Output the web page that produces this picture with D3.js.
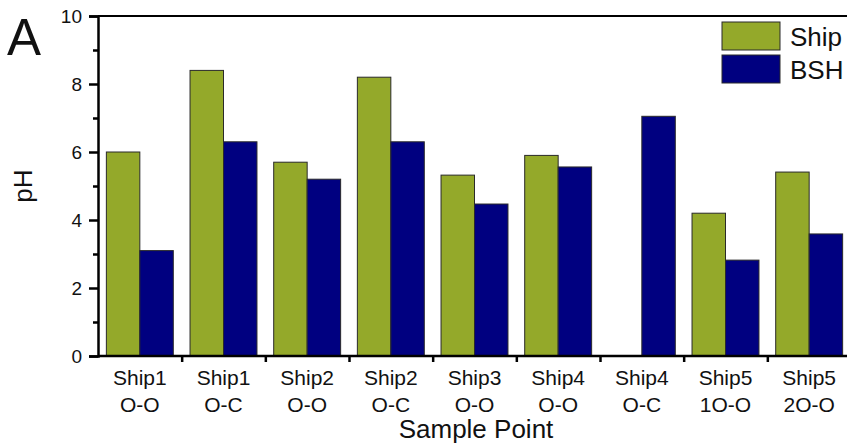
<!DOCTYPE html>
<html>
<head>
<meta charset="utf-8">
<title>pH by Sample Point</title>
<script src="https://cdn.jsdelivr.net/npm/d3@7"></script>
<style>
  body { margin: 0; background: #fff; }
  text { font-family: "Liberation Sans", Arial, sans-serif; fill: #111; }
</style>
</head>
<body>
<script>
// data
var categories = ["Ship1|O-O", "Ship1|O-C", "Ship2|O-O", "Ship2|O-C", "Ship3|O-O",
                  "Ship4|O-O", "Ship4|O-C", "Ship5|1O-O", "Ship5|2O-O"];
var shipValues = [6.0, 8.4, 5.7, 8.2, 5.32, 5.9, 0, 4.2, 5.41];
var bshValues  = [3.1, 6.3, 5.2, 6.3, 4.47, 5.56, 7.05, 2.82, 3.59];
var seriesNames = ["Ship", "BSH"];
var yTicks = [0, 2, 4, 6, 8, 10];
var yMinorTicks = [1, 3, 5, 7, 9];

var w = 847, h = 445;
var mLeft = 98, mRight = 851, mTop = 16, mBottom = 356;
var colors = { Ship: "#94a92a", BSH: "#000080" };

var data = categories.map(function (c, i) {
  return { cat: c, Ship: shipValues[i], BSH: bshValues[i] };
});

var svg = d3.select("body").append("svg")
    .attr("width", w)
    .attr("height", h);

var x = d3.scaleBand()
    .domain(categories)
    .range([mLeft, mRight])
    .paddingInner(0)
    .paddingOuter(0);

var x1 = d3.scaleBand()
    .domain(seriesNames)
    .range([0, x.bandwidth()])
    .paddingInner(0)
    .paddingOuter(0.25);

var y = d3.scaleLinear()
    .domain([0, 10])
    .range([mBottom, mTop]);

// bars
var groups = svg.selectAll("g.grp")
    .data(data)
    .enter()
    .append("g")
    .attr("class", "grp")
    .attr("transform", function (d) { return "translate(" + x(d.cat) + ",0)"; });

groups.selectAll("rect")
    .data(function (d) {
      return seriesNames.map(function (s) { return { key: s, value: d[s] }; })
        .filter(function (e) { return e.value > 0; });
    })
    .enter()
    .append("rect")
    .attr("x", function (d) { return x1(d.key); })
    .attr("y", function (d) { return y(d.value); })
    .attr("width", x1.bandwidth())
    .attr("height", function (d) { return y(0) - y(d.value); })
    .attr("fill", function (d) { return colors[d.key]; })
    .attr("stroke", "#2a2a2a")
    .attr("stroke-width", 1);

// y axis
var yAxis = d3.axisLeft(y)
    .tickValues(yTicks)
    .tickSize(9)
    .tickPadding(7)
    .tickFormat(d3.format("d"));

var yg = svg.append("g")
    .attr("transform", "translate(" + mLeft + ",0)")
    .call(yAxis);
yg.selectAll(".tick text").style("font-size", "19px").attr("dy", "0.36em");

var yMinor = svg.append("g")
    .attr("transform", "translate(" + mLeft + ",0)")
    .call(d3.axisLeft(y).tickValues(yMinorTicks).tickSize(5).tickFormat(""));
yMinor.select(".domain").remove();

// x axis with ticks at category boundaries
var boundaries = categories.slice(1).map(function (c) { return x(c); });
var xb = d3.scaleLinear().domain([mLeft, mRight]).range([mLeft, mRight]);
var xg = svg.append("g")
    .attr("transform", "translate(0," + mBottom + ")")
    .call(d3.axisBottom(xb).tickValues(boundaries).tickSize(6).tickFormat(""));
xg.select(".domain").attr("d", "M" + mLeft + ",0H" + w);

// category labels (two lines)
var labels = svg.append("g").selectAll("text")
    .data(categories)
    .enter()
    .append("text")
    .attr("x", function (c) { return x(c) + x.bandwidth() / 2; })
    .attr("y", 385)
    .attr("text-anchor", "middle")
    .style("font-size", "21px");
labels.append("tspan")
    .attr("x", function (c) { return x(c) + x.bandwidth() / 2; })
    .text(function (c) { return c.split("|")[0]; });
labels.append("tspan")
    .attr("x", function (c) { return x(c) + x.bandwidth() / 2; })
    .attr("dy", 27)
    .text(function (c) { return c.split("|")[1]; });

// axis lines styling
svg.selectAll(".domain, .tick line")
    .attr("stroke", "#000")
    .attr("stroke-width", 2.5);

// top frame line
svg.append("line")
    .attr("x1", mLeft).attr("x2", w)
    .attr("y1", y(10)).attr("y2", y(10))
    .attr("stroke", "#000")
    .attr("stroke-width", 2);

// axis titles
svg.append("text")
    .attr("x", 476)
    .attr("y", 438)
    .attr("text-anchor", "middle")
    .style("font-size", "26px")
    .text("Sample Point");

svg.append("text")
    .attr("transform", "translate(32,186) rotate(-90)")
    .attr("text-anchor", "middle")
    .style("font-size", "26px")
    .text("pH");

// panel letter
svg.append("text")
    .attr("x", 7)
    .attr("y", 55)
    .style("font-size", "51px")
    .text("A");

// legend
var legend = svg.append("g").selectAll("g")
    .data(seriesNames)
    .enter()
    .append("g")
    .attr("transform", function (d, i) { return "translate(722," + (22 + i * 33) + ")"; });
legend.append("rect")
    .attr("width", 58)
    .attr("height", 28)
    .attr("fill", function (d) { return colors[d]; })
    .attr("stroke", "#2a2a2a")
    .attr("stroke-width", 1);
legend.append("text")
    .attr("x", 68)
    .attr("y", 24)
    .style("font-size", "26px")
    .text(function (d) { return d; });
</script>
</body>
</html>
